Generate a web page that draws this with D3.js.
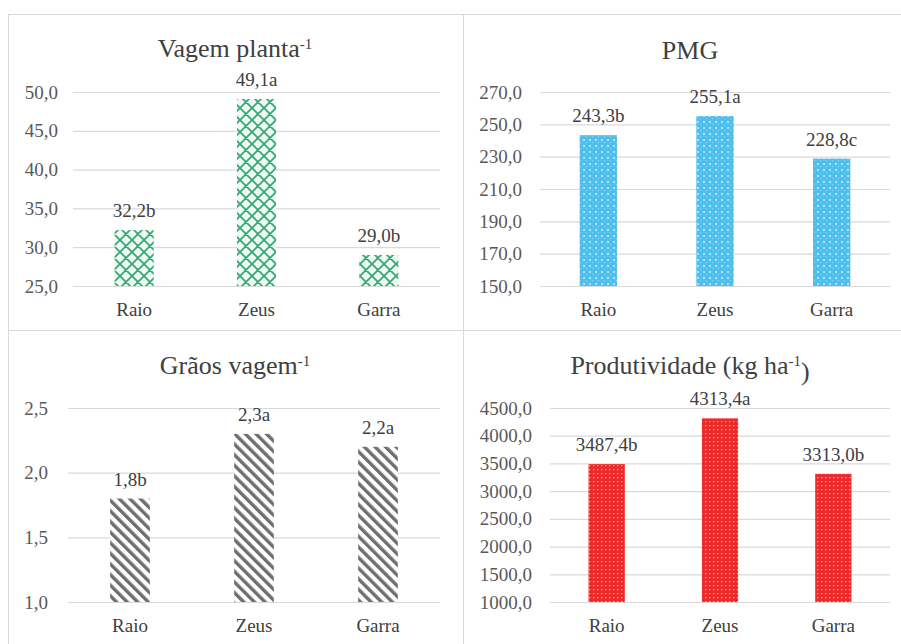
<!DOCTYPE html>
<html>
<head>
<meta charset="utf-8">
<script src="https://cdn.jsdelivr.net/npm/d3@7"></script>
</head>
<body style="margin:0">
<svg id="chart" width="901" height="644"></svg>
<script>
// Cultivars compared in every panel
const categories = ["Raio", "Zeus", "Garra"];

// Pods per plant
const vagemPlanta = [32.2, 49.1, 29.0];
const vagemLetters = ["b", "a", "b"];
const vagemTicks = [25, 30, 35, 40, 45, 50];

// Thousand-grain mass
const pmg = [243.3, 255.1, 228.8];
const pmgLetters = ["b", "a", "c"];
const pmgTicks = [150, 170, 190, 210, 230, 250, 270];

// Grains per pod
const graosVagem = [1.8, 2.3, 2.2];
const graosLetters = ["b", "a", "a"];
const graosTicks = [1.0, 1.5, 2.0, 2.5];

// Yield (kg/ha)
const produtividade = [3487.4, 4313.4, 3313.0];
const prodLetters = ["b", "a", "b"];
const prodTicks = [1000, 1500, 2000, 2500, 3000, 3500, 4000, 4500];

const FONT = "'Liberation Serif'";
const fmt = v => d3.format(".1f")(v).replace(".", ",");

const svg = d3.select("#chart");
const defs = svg.append("defs");

// ---- fill patterns ----
// green open diamond lattice
const pGreen = defs.append("pattern").attr("id", "pat-green")
  .attr("patternUnits", "userSpaceOnUse").attr("width", 12).attr("height", 12);
pGreen.append("rect").attr("width", 12).attr("height", 12).attr("fill", "#eef8f3");
pGreen.append("path").attr("d", "M0,0L12,12M12,0L0,12M-3,3L3,-3M9,15L15,9M-3,9L3,15M9,-3L15,3")
  .attr("stroke", "#38a878").attr("stroke-width", 1.8).attr("fill", "none");

// blue with a fine light grid
const pBlue = defs.append("pattern").attr("id", "pat-blue")
  .attr("patternUnits", "userSpaceOnUse").attr("width", 6).attr("height", 6);
pBlue.append("rect").attr("width", 6).attr("height", 6).attr("fill", "#4cc0ef");
pBlue.append("rect").attr("x", 1).attr("y", 1).attr("width", 2).attr("height", 2).attr("fill", "#a9e1f7");
pBlue.append("rect").attr("x", 4).attr("y", 4).attr("width", 1).attr("height", 1).attr("fill", "#8fd6f4");

// grey downward diagonal stripes
const pGrey = defs.append("pattern").attr("id", "pat-grey")
  .attr("patternUnits", "userSpaceOnUse").attr("width", 7.5).attr("height", 7.5)
  .attr("patternTransform", "rotate(-45)");
pGrey.append("rect").attr("width", 7.5).attr("height", 7.5).attr("fill", "#ffffff");
pGrey.append("rect").attr("x", 0).attr("width", 3.4).attr("height", 7.5).attr("fill", "#6e6e6e");

// red with small light dots
const pRed = defs.append("pattern").attr("id", "pat-red")
  .attr("patternUnits", "userSpaceOnUse").attr("width", 4).attr("height", 4);
pRed.append("rect").attr("width", 4).attr("height", 4).attr("fill", "#ec2a2a");
pRed.append("rect").attr("x", 1).attr("y", 1).attr("width", 1.3).attr("height", 1.3).attr("fill", "#f7a3a3");

// ---- panel frames ----
const frame = "#d9d9d9";
[[8, 14, 455, 316], [463, 14, 455, 316], [8, 330, 455, 316], [463, 330, 455, 316]].forEach(r => {
  svg.append("rect").attr("x", r[0] + 0.5).attr("y", r[1] + 0.5)
    .attr("width", r[2]).attr("height", r[3])
    .attr("fill", "none").attr("stroke", frame).attr("stroke-width", 1);
});

const panels = [
  { title: "Vagem planta", sup: "-1", after: "", values: vagemPlanta, letters: vagemLetters, ticks: vagemTicks,
    fill: "url(#pat-green)", left: 73, right: 440, top: 92, bottom: 286, pad: 15, titleX: 235, titleY: 57 },
  { title: "PMG", sup: "", after: "", values: pmg, letters: pmgLetters, ticks: pmgTicks,
    fill: "url(#pat-blue)", left: 540, right: 890, top: 92, bottom: 286, pad: 18, titleX: 690, titleY: 59 },
  { title: "Grãos vagem", sup: "-1", after: "", values: graosVagem, letters: graosLetters, ticks: graosTicks,
    fill: "url(#pat-grey)", left: 68, right: 440, top: 408, bottom: 602, pad: 20, titleX: 235, titleY: 374 },
  { title: "Produtividade (kg ha", sup: "-1", after: ")", values: produtividade, letters: prodLetters, ticks: prodTicks,
    fill: "url(#pat-red)", left: 550, right: 890, top: 408, bottom: 602, pad: 18, titleX: 690, titleY: 374 }
];

function serif(sel, size) {
  sel.style("font-family", FONT).style("font-size", size + "px");
}

panels.forEach(p => {
  const g = svg.append("g");

  const x = d3.scaleBand().domain(categories).range([p.left, p.right])
    .paddingInner(0.68).paddingOuter(0.34);
  const y = d3.scaleLinear().domain([p.ticks[0], p.ticks[p.ticks.length - 1]]).range([p.bottom, p.top]);

  // gridlines + value axis labels
  const ya = g.append("g").attr("transform", `translate(${p.left},0)`)
    .call(d3.axisLeft(y).tickValues(p.ticks).tickFormat(fmt)
      .tickSize(-(p.right - p.left)).tickPadding(p.pad));
  ya.select(".domain").remove();
  ya.selectAll("line").attr("stroke", "#d9d9d9").attr("stroke-width", 1.2);
  ya.selectAll("text").attr("fill", "#595959").call(serif, 19);

  // bars
  const data = categories.map((c, i) => ({ c, v: p.values[i], l: p.letters[i] }));
  g.selectAll("rect.bar").data(data).join("rect").attr("class", "bar")
    .attr("x", d => x(d.c)).attr("width", x.bandwidth())
    .attr("y", d => y(d.v)).attr("height", d => y(y.domain()[0]) - y(d.v))
    .attr("fill", p.fill);

  // value labels with significance letters
  g.selectAll("text.val").data(data).join("text").attr("class", "val")
    .attr("x", d => x(d.c) + x.bandwidth() / 2).attr("y", d => y(d.v) - 13)
    .attr("text-anchor", "middle").attr("fill", "#404040")
    .call(serif, 19)
    .text(d => fmt(d.v) + d.l);

  // category axis
  const xa = g.append("g").attr("transform", `translate(0,${p.bottom})`)
    .call(d3.axisBottom(x).tickSize(0).tickPadding(17));
  xa.select(".domain").remove();
  xa.selectAll("text").attr("fill", "#404040").call(serif, 19);

  // title with superscript exponent
  const t = g.append("text").attr("x", p.titleX).attr("y", p.titleY)
    .attr("text-anchor", "middle").attr("fill", "#404040")
    .call(serif, 26);
  t.append("tspan").text(p.title);
  if (p.sup) {
    t.append("tspan").attr("dy", "-0.55em").style("font-size", "15px").text(p.sup);
    if (p.after) t.append("tspan").attr("dy", "0.55em").text(p.after);
  }
});
</script>
</body>
</html>
